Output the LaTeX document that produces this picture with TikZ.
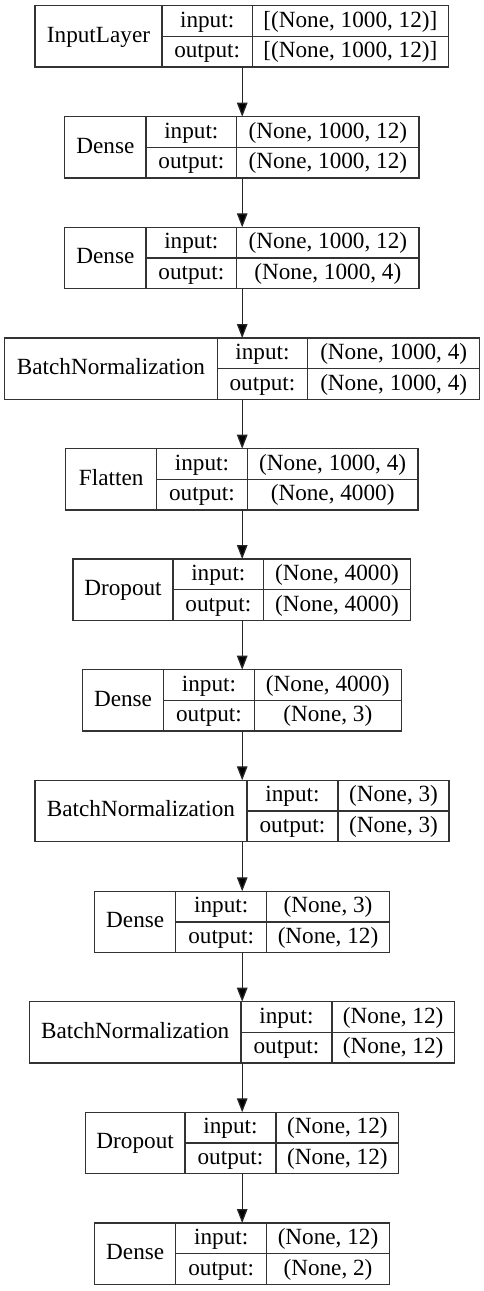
\documentclass[tikz,border=0pt]{standalone}
\usepackage{fontspec}
\setmainfont{Liberation Serif}
\usetikzlibrary{arrows.meta}

% One Keras layer record: id, top y, four column edges, class name, input shape, output shape
\newcommand{\layerrecord}[9]{%
  \pgfmathsetmacro\recbot{#2+61.3}%
  \pgfmathsetmacro\recmid{#2+30.65}%
  \node[rec, minimum width={(#6-#3)*1pt}, anchor=north west] (#1) at (#3,#2) {};
  \draw[rule] (#4,#2) -- (#4,\recbot);
  \draw[rule] (#5,#2) -- (#5,\recbot);
  \draw[rule] (#4,\recmid) -- (#6,\recmid);
  \node[lbl] (#1-name) at ({(#3+#4)/2},{#2+30.65+6}) {#7};
  \node[lbl] (#1-inkey) at ({(#4+#5)/2},{#2+15.3+6}) {input:};
  \node[lbl] (#1-outkey) at ({(#4+#5)/2},{#2+46+6}) {output:};
  \node[lbl] (#1-inval) at ({(#5+#6)/2},{#2+15.3+6}) {#8};
  \node[lbl] (#1-outval) at ({(#5+#6)/2},{#2+46+6}) {#9};
}

\begin{document}
\begin{tikzpicture}[x=1pt,y=-1pt,
  rec/.style={draw=black!80, line width=1.3pt, rectangle, inner sep=0pt,
    outer sep=0pt, minimum height=61.3pt},
  rule/.style={draw=black!80, line width=1.3pt},
  lbl/.style={anchor=base, inner sep=0pt, font=\fontsize{23.2}{28}\selectfont},
  flow/.style={draw=black!85, line width=1.3pt,
    -{Triangle[length=14pt,width=10.5pt,fill=black]}}]
\fill[white] (0,0) rectangle (484,1291);
\useasboundingbox (0,0) rectangle (484,1291);

\layerrecord{l1}{5.7}{35}{162}{252.3}{448.5}{InputLayer}{[(None, 1000, 12)]}{[(None, 1000, 12)]}
\layerrecord{l2}{116.7}{64.7}{146}{236.7}{419}{Dense}{(None, 1000, 12)}{(None, 1000, 12)}
\layerrecord{l3}{227.3}{64.7}{146}{236.7}{419}{Dense}{(None, 1000, 12)}{(None, 1000, 4)}
\layerrecord{l4}{338}{4.7}{217.3}{307.7}{479.7}{BatchNormalization}{(None, 1000, 4)}{(None, 1000, 4)}
\layerrecord{l5}{448.7}{65.7}{156.7}{247.3}{418}{Flatten}{(None, 1000, 4)}{(None, 4000)}
\layerrecord{l6}{559}{73}{173}{263.7}{410.3}{Dropout}{(None, 4000)}{(None, 4000)}
\layerrecord{l7}{669.7}{82.3}{163.7}{254.3}{401.3}{Dense}{(None, 4000)}{(None, 3)}
\layerrecord{l8}{780.3}{35}{247}{338}{449}{BatchNormalization}{(None, 3)}{(None, 3)}
\layerrecord{l9}{891.3}{94.7}{175.7}{266.7}{389.3}{Dense}{(None, 3)}{(None, 12)}
\layerrecord{l10}{1001.7}{29.3}{241}{332}{454.3}{BatchNormalization}{(None, 12)}{(None, 12)}
\layerrecord{l11}{1112.3}{85.3}{185}{276}{398.7}{Dropout}{(None, 12)}{(None, 12)}
\layerrecord{l12}{1223}{94.7}{175.7}{266.7}{389.3}{Dense}{(None, 12)}{(None, 2)}

% data flow between consecutive layers
\foreach \a/\b in {l1/l2,l2/l3,l3/l4,l4/l5,l5/l6,l6/l7,l7/l8,l8/l9,l9/l10,l10/l11,l11/l12}
  \draw[flow] (\a.south -| 242.2,0) -- (\b.north -| 242.2,0);
\end{tikzpicture}
\end{document}
